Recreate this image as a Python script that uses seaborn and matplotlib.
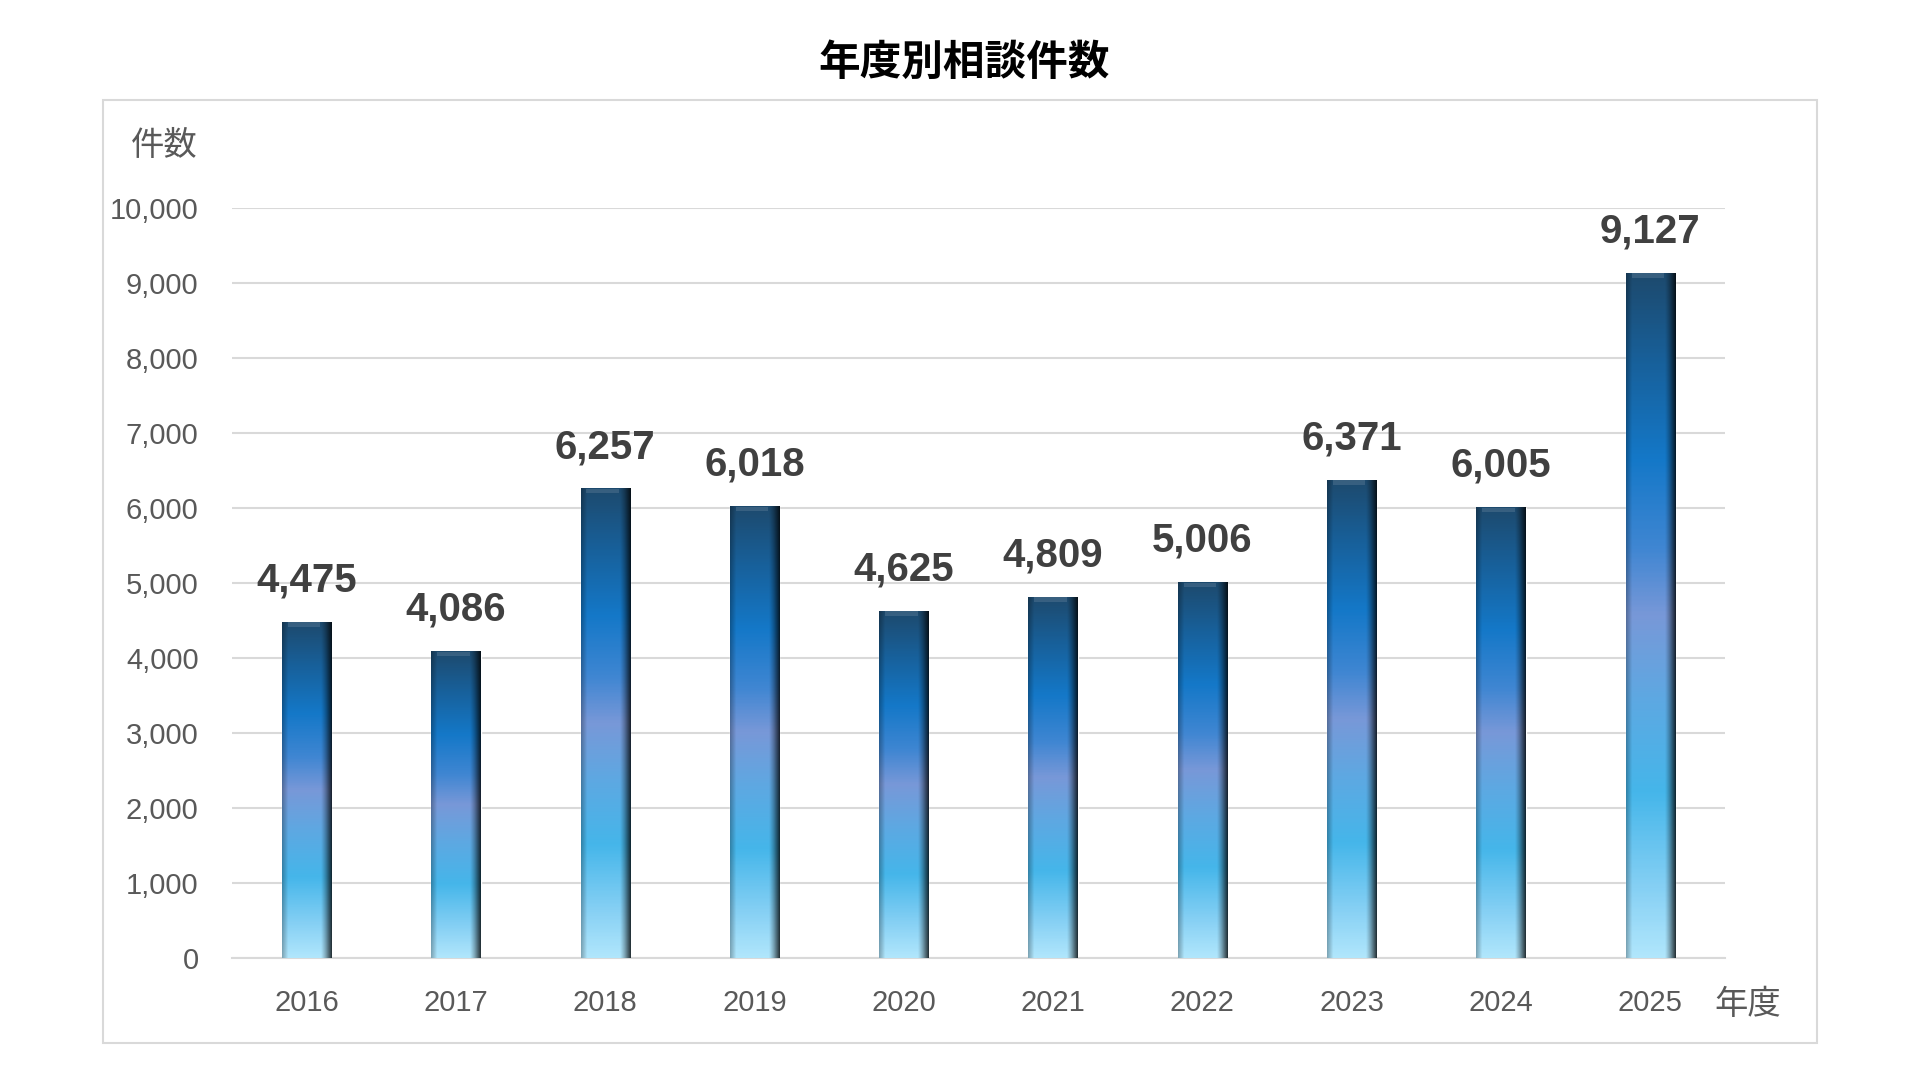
import numpy as np
import pandas as pd
import matplotlib
matplotlib.use("Agg")
import matplotlib.pyplot as plt
import seaborn as sns
from matplotlib.colors import LinearSegmentedColormap
from matplotlib.patches import Rectangle
from matplotlib.ticker import StrMethodFormatter

# data
years = ["2016", "2017", "2018", "2019", "2020", "2021", "2022", "2023", "2024", "2025"]
counts = [4475, 4086, 6257, 6018, 4625, 4809, 5006, 6371, 6005, 9127]
y_ticks = [0, 1000, 2000, 3000, 4000, 5000, 6000, 7000, 8000, 9000, 10000]

title = "年度別相談件数"
y_name = "件数"
x_name = "年度"

df = pd.DataFrame({"year": years, "count": counts})

sns.set_style("white")
plt.rcParams["font.family"] = ["Liberation Sans", "Noto Sans CJK JP", "DejaVu Sans"]

fig = plt.figure(figsize=(19.2, 10.8), dpi=100)
ax = fig.add_axes([0.1208, 0.1130, 0.7776, 0.6944])

sns.barplot(data=df, x="year", y="count", color="#3f86cf", width=0.33, ax=ax, zorder=2)

# vertical gradient of the bars (top -> bottom)
grad = LinearSegmentedColormap.from_list("bar", [
    (0.00, "#1d4a6e"),
    (0.12, "#185f98"),
    (0.27, "#1478c8"),
    (0.40, "#3f86d2"),
    (0.50, "#7898d8"),
    (0.62, "#5ea8e2"),
    (0.76, "#45b6ea"),
    (0.90, "#86d0f4"),
    (1.00, "#b0e6fc"),
])
nx, ny = 60, 400
tt = np.linspace(0, 1, ny)
vert = grad(tt)[:, :3]
xs = np.linspace(0, 1, nx)
# cylinder-like shading: slightly dark left edge, dark right edge
shade = np.ones(nx)
shade = np.where(xs < 0.12, 0.72 + 0.28 * xs / 0.12, shade)
shade = np.where(xs > 0.78, 1 - 0.78 * ((xs - 0.78) / 0.22) ** 1.3, shade)
img = vert[:, None, :] * shade[None, :, None]

for p in ax.patches:
    x0, w, h = p.get_x(), p.get_width(), p.get_height()
    ax.imshow(img, extent=[x0, x0 + w, 0, h], aspect="auto", origin="upper",
              zorder=3, interpolation="bilinear")
    # bevel highlight at the top
    ax.add_patch(Rectangle((x0 + w * 0.12, h - 60), w * 0.66, 60,
                           facecolor="white", alpha=0.12, edgecolor="none", zorder=4))
    ax.annotate(f"{int(h):,}", (x0 + w / 2, h), xytext=(0, 30), textcoords="offset points",
                ha="center", va="center", fontsize=29, fontweight="bold", color="#404040",
                zorder=5)

ax.set_xlim(-0.5, 9.5)
ax.set_ylim(0, 10000)
ax.set_yticks(y_ticks)
ax.yaxis.set_major_formatter(StrMethodFormatter("{x:,.0f}"))
ax.set_xlabel("")
ax.set_ylabel("")
ax.tick_params(axis="both", length=0, labelsize=21, labelcolor="#595959")
ax.tick_params(axis="x", pad=22)
ax.tick_params(axis="y", pad=24)
ax.grid(axis="y", color="#d9d9d9", linewidth=1.5, zorder=0)
ax.set_axisbelow(True)
for s in ["top", "right", "left"]:
    ax.spines[s].set_visible(False)
ax.spines["bottom"].set_color("#d9d9d9")
ax.spines["bottom"].set_linewidth(1.5)

# outer frame of the chart
fig.patches.append(Rectangle((0.0536, 0.0343), 0.8927, 0.8731, transform=fig.transFigure,
                             facecolor="none", edgecolor="#d9d9d9", linewidth=1.5))

fig.text(0.502, 0.941, title, ha="center", va="center", fontsize=30, fontweight="bold", color="black")
fig.text(0.0855, 0.864, y_name, ha="center", va="center", fontsize=24, color="#595959")
fig.text(0.9104, 0.069, x_name, ha="center", va="center", fontsize=24, color="#595959")

fig.savefig("out.png", dpi=100)
